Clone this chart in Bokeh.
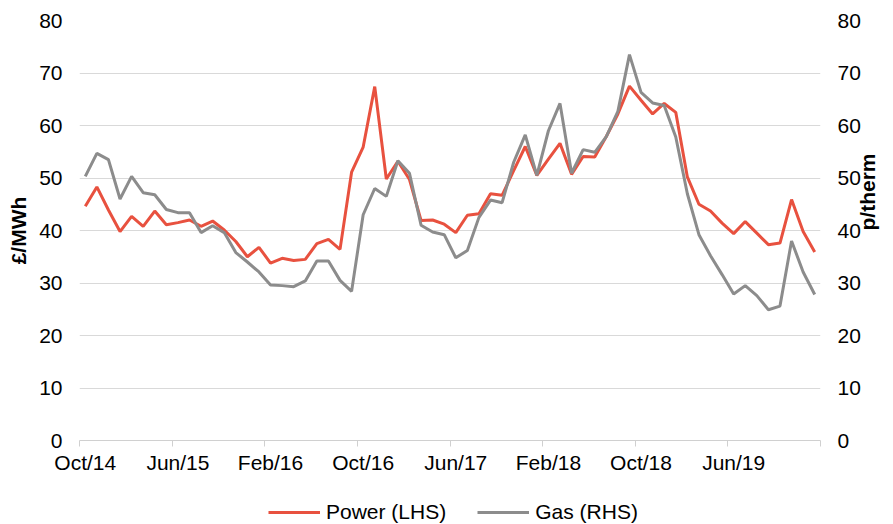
import math
import numpy as np
from bokeh.plotting import figure
from bokeh.layouts import column
from bokeh.models import Range1d, LinearAxis, FixedTicker, Legend, LegendItem, Grid
from bokeh.embed import file_html
from bokeh.resources import INLINE

# Monthly data, Oct 2014 .. Jan 2020
power = [44.6, 48.3, 43.9, 39.8, 42.7, 40.8, 43.7, 41.1, 41.5, 42.0,
         40.8, 41.8, 40.1, 37.9, 35.0, 36.8, 33.8, 34.7, 34.3, 34.5,
         37.5, 38.3, 36.4, 51.1, 55.9, 67.4, 49.8, 53.2, 49.7, 41.9,
         42.0, 41.2, 39.6, 42.9, 43.2, 47.0, 46.7, 51.4, 56.0, 50.5,
         53.6, 56.6, 50.7, 54.1, 54.0, 57.9, 62.2, 67.5, 64.8, 62.2,
         64.2, 62.5, 50.2, 45.0, 43.7, 41.4, 39.4, 41.7, 39.5, 37.3,
         37.6, 45.9, 39.8, 35.9]
gas = [50.3, 54.7, 53.5, 46.0, 50.3, 47.2, 46.8, 44.0, 43.4, 43.4,
       39.6, 40.9, 39.6, 35.8, 34.0, 32.1, 29.6, 29.5, 29.3, 30.4,
       34.2, 34.2, 30.5, 28.4, 43.0, 48.0, 46.5, 53.3, 50.9, 41.0,
       39.7, 39.2, 34.8, 36.2, 42.5, 45.8, 45.3, 53.0, 58.2, 50.5,
       59.0, 64.2, 50.9, 55.4, 54.9, 57.9, 62.7, 73.5, 66.3, 64.3,
       63.8, 57.8, 47.0, 39.2, 35.2, 31.6, 27.9, 29.5, 27.6, 24.9,
       25.6, 38.0, 32.1, 27.8]
tick_labels = ["Oct/14", "Jun/15", "Feb/16", "Oct/16", "Jun/17", "Feb/18", "Oct/18", "Jun/19"]
tick_step = 8
y_ticks = [0, 10, 20, 30, 40, 50, 60, 70, 80]
series_names = ["Power (LHS)", "Gas (RHS)"]

n = len(power)
x = np.arange(n) + 0.5

FONT = "Liberation Sans"
FS = "21px"
RED = "#E8513F"
GREY = "#8C8C8C"
AXIS_GREY = "#D0D0D0"

p = figure(width=893, height=495, output_backend="svg", toolbar_location=None,
           x_range=Range1d(0, n), y_range=Range1d(0, 80),
           x_axis_location=None, y_axis_location=None,
           min_border_left=79, min_border_right=73, min_border_top=20, min_border_bottom=55)
p.outline_line_color = None
p.extra_y_ranges = {"gas": Range1d(0, 80)}
p.center = [r for r in p.center if not isinstance(r, Grid)]
p.add_layout(Grid(dimension=1, ticker=FixedTicker(ticks=y_ticks), grid_line_color="#D9D9D9", grid_line_width=1))

def yaxis(standoff, **kw):
    ax = LinearAxis(ticker=FixedTicker(ticks=y_ticks), axis_line_color=None,
                    major_tick_line_color=None, minor_tick_line_color=None,
                    major_tick_in=0, major_tick_out=0,
                    major_label_text_font=FONT, major_label_text_font_size=FS,
                    major_label_text_color="#000000", major_label_standoff=17,
                    axis_label_text_font=FONT, axis_label_text_font_size=FS,
                    axis_label_text_font_style="bold", axis_label_text_color="#000000",
                    axis_label_standoff=standoff, **kw)
    return ax

p.add_layout(yaxis(6, axis_label="£/MWh"), "left")
p.add_layout(yaxis(4, axis_label="p/therm", y_range_name="gas",
                   axis_label_orientation=math.pi / 2), "right")

bound_ticks = list(range(0, n + 1, tick_step))
ax1 = LinearAxis(ticker=FixedTicker(ticks=bound_ticks), axis_line_color=AXIS_GREY,
                 major_tick_line_color=AXIS_GREY, minor_tick_line_color=None,
                 major_tick_in=0, major_tick_out=6, major_label_standoff=0,
                 major_label_overrides={t: "" for t in bound_ticks},
                 major_label_text_font_size="1px")
centers = [i * tick_step + 0.5 for i in range(len(tick_labels))]
ax2 = LinearAxis(ticker=FixedTicker(ticks=centers), axis_line_color=None,
                 major_tick_line_color=None, minor_tick_line_color=None,
                 major_tick_in=0, major_tick_out=0, major_label_standoff=4,
                 major_label_overrides={c: l for c, l in zip(centers, tick_labels)},
                 major_label_text_font=FONT, major_label_text_font_size=FS,
                 major_label_text_color="#000000")
p.add_layout(ax1, "below")
p.add_layout(ax2, "below")

p.line(x, power, line_color=RED, line_width=3)
p.line(x, gas, line_color=GREY, line_width=3, y_range_name="gas")

# Legend strip below the chart (sample lines kept outside the visible range)
lg = figure(width=893, height=29, output_backend="svg", toolbar_location=None,
            x_range=Range1d(0, 1), y_range=Range1d(0, 1),
            x_axis_location=None, y_axis_location=None,
            min_border_left=0, min_border_right=0, min_border_top=0, min_border_bottom=0)
lg.outline_line_color = None
lg.center = [r for r in lg.center if not isinstance(r, Grid)]
d1 = lg.line([-5, -4], [-5, -5], line_color=RED, line_width=3)
d2 = lg.line([-5, -4], [-5, -5], line_color=GREY, line_width=3)
legend = Legend(items=[LegendItem(label=series_names[0], renderers=[d1]),
                       LegendItem(label=series_names[1], renderers=[d2])],
                orientation="horizontal", location=(189, 0),
                glyph_width=52, glyph_height=20, label_standoff=6, spacing=31,
                padding=0, margin=0, border_line_color=None, background_fill_alpha=0,
                label_text_font=FONT, label_text_font_size=FS, label_text_color="#000000")
lg.add_layout(legend)

layout = column(p, lg, spacing=0)
open("out.html", "w").write(file_html(layout, INLINE))
